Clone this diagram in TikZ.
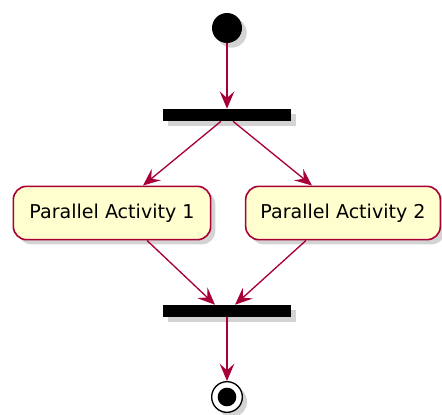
\documentclass[tikz,border=0pt]{standalone}
\usepackage{fontspec}
\setmainfont{DejaVu Sans}
\usepackage{xcolor}
\usetikzlibrary{arrows.meta,calc,shadows}
\definecolor{umlred}{HTML}{A80036}
\definecolor{umlfill}{HTML}{FEFECE}

\begin{document}
\begin{tikzpicture}[x=0.75pt,y=-0.75pt,
 flow/.style={-{Stealth[length=13pt,width=11pt,inset=5pt]},line width=1pt,draw=umlred},
 shade/.style={drop shadow={shadow xshift=3.5pt,shadow yshift=-3.5pt,opacity=0.35}},
 activity/.style={shade,draw=umlred,fill=umlfill,line width=1.2pt,
   rounded corners=10pt,minimum width=148pt,minimum height=40pt,
   font=\fontsize{14.3}{17}\selectfont},
 bar/.style={shade,fill=black,minimum width=96pt,minimum height=9pt,inner sep=0pt},
 dot/.style={circle,inner sep=0pt}]
\useasboundingbox (0,0) rectangle (442,414);
% Start, fork and the two parallel branches.
\node[dot,shade,fill=black,minimum size=22.5pt] (start) at (227,28) {};
\node[bar] (fork) at (227,115) {};
\node[activity] (act1) at (112,213) {Parallel Activity 1};
\node[activity,minimum width=146pt] (act2) at (343,213) {Parallel Activity 2};
% Join and final state.
\node[bar] (join) at (227,311) {};
\node[dot,shade,draw=black,fill=white,line width=1pt,minimum size=23pt] (stop) at (227,397) {};
\node[dot,fill=black,minimum size=14pt] (stopin) at (stop.center) {};

\draw[flow] (start.south)--(fork.north);
\draw[flow] ($(fork.south)+(-6,0)$)--($(act1.north)+(31,0)$);
\draw[flow] ($(fork.south)+(6,0)$)--($(act2.north)+(-31,0)$);
\draw[flow] ($(act1.south)+(35,0)$)--($(join.north)+(-12,0)$);
\draw[flow] ($(act2.south)+(-37,0)$)--($(join.north)+(8,0)$);
\draw[flow] (join.south)--(stop.north);
\end{tikzpicture}
\end{document}
